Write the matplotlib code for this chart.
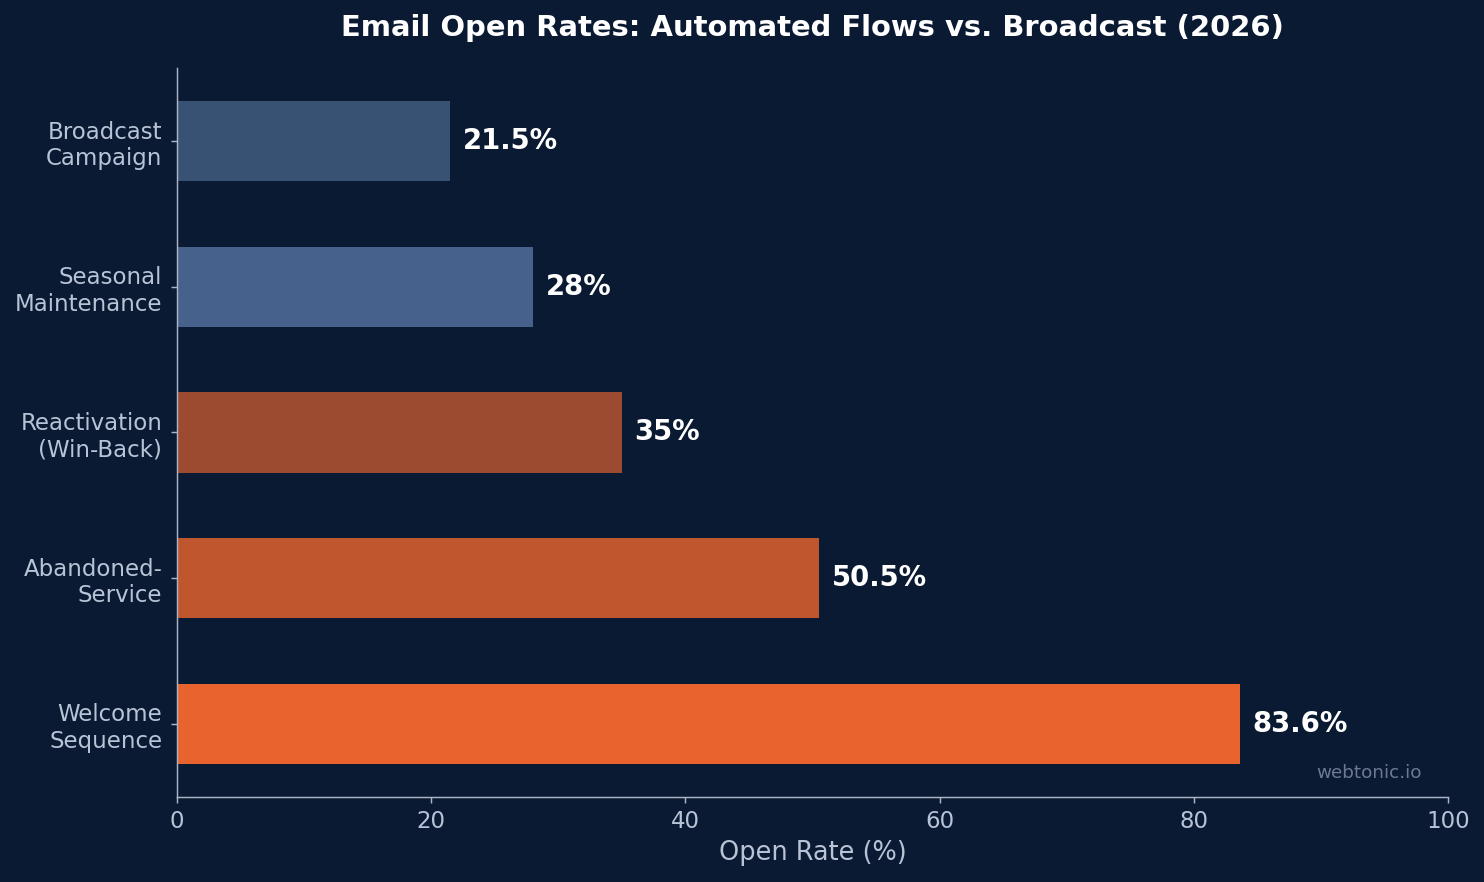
import matplotlib.pyplot as plt

categories = ["Welcome\nSequence", "Abandoned-\nService", "Reactivation\n(Win-Back)",
              "Seasonal\nMaintenance", "Broadcast\nCampaign"]
open_rates = [83.6, 50.5, 35, 28, 21.5]
value_labels = ["83.6%", "50.5%", "35%", "28%", "21.5%"]
bar_colors = ["#e8632d", "#c0562e", "#9c4a30", "#46628c", "#375273"]

bg = "#0b1a33"
text_col = "#b8c4d6"
spine_col = "#a9b4c4"

dpi = 132
fig = plt.figure(figsize=(1484 / dpi, 882 / dpi), dpi=dpi, facecolor=bg)
ax = fig.add_axes([0.1193, 0.0964, 0.8564, 0.8265], facecolor=bg)

ax.barh(range(len(categories)), open_rates, height=0.55, color=bar_colors)
for i, (v, lab) in enumerate(zip(open_rates, value_labels)):
    ax.text(v + 1, i, lab, va="center", ha="left", color="white",
            fontsize=15, fontweight="bold")

ax.set_yticks(range(len(categories)))
ax.set_yticklabels(categories)
ax.set_xlim(0, 100)
ax.set_xlabel("Open Rate (%)", color=text_col, fontsize=14)
ax.set_title("Email Open Rates: Automated Flows vs. Broadcast (2026)",
             color="white", fontsize=15.8, fontweight="bold", pad=17.5)

ax.tick_params(colors=text_col, labelsize=12.5)
ax.tick_params(axis="both", color=spine_col)
ax.tick_params(axis="y", pad=4.5)
for s in ["top", "right"]:
    ax.spines[s].set_visible(False)
for s in ["left", "bottom"]:
    ax.spines[s].set_color(spine_col)

ax.text(0.979, 0.02, "webtonic.io", transform=ax.transAxes, ha="right",
        va="bottom", color="#6b7a91", fontsize=10)

fig.savefig("out.png", dpi=dpi, facecolor=bg)
